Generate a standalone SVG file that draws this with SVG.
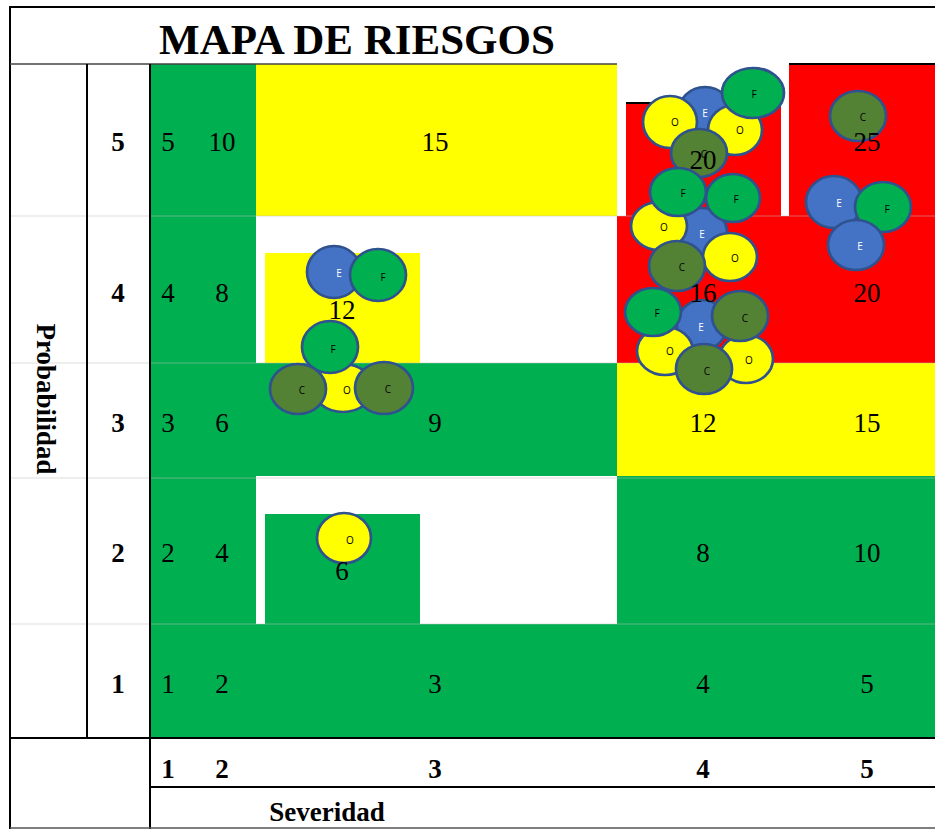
<svg xmlns="http://www.w3.org/2000/svg" width="935" height="829" viewBox="0 0 935 829">
<style>
.g{fill:#00B050}.y{fill:#FFFF00}.r{fill:#FF0000}
.ln{stroke:#000;stroke-width:2;fill:none}
.gl{stroke:#bfbfbf;stroke-width:1;opacity:0.5}
.num{font-family:"Liberation Serif","Times New Roman",serif;font-size:27px;fill:#000;text-anchor:middle}
.lab{font-family:"Liberation Serif","Times New Roman",serif;font-size:27px;font-weight:bold;fill:#000;text-anchor:middle}
.mk ellipse{stroke:#2F528F;stroke-width:2.7}
.O{fill:#FFFF00}.E{fill:#4472C4}.F{fill:#00B050}.C{fill:#548235}
.mk text{font-family:"Open Sans","Liberation Sans",sans-serif;font-size:10px;text-anchor:middle;fill:#000}
.mk text.w{fill:#fff}
</style>
<rect width="935" height="829" fill="#fff"/>
<g id="cells">
<rect class="g" x="150" y="64" width="106" height="674"/>
<rect class="y" x="256" y="64" width="361" height="152"/>
<rect class="r" x="626" y="103" width="155" height="113"/>
<rect class="r" x="789" y="64" width="146" height="152"/>
<rect class="y" x="265" y="253" width="155" height="110"/>
<rect class="r" x="617" y="216" width="318" height="147"/>
<rect class="g" x="256" y="363" width="361" height="113"/>
<rect class="y" x="617" y="363" width="318" height="113"/>
<rect class="g" x="265" y="514" width="155" height="110"/>
<rect class="g" x="617" y="476" width="318" height="148"/>
<rect class="g" x="150" y="624" width="785" height="114"/>
</g>
<g id="gridlines">
<line class="gl" x1="10" y1="216" x2="935" y2="216"/>
<line class="gl" x1="10" y1="363" x2="935" y2="363"/>
<line class="gl" x1="10" y1="478" x2="935" y2="478"/>
<line class="gl" x1="10" y1="624" x2="935" y2="624"/>
</g>
<g id="frame">
<line class="ln" x1="9" y1="7" x2="935" y2="7"/>
<line class="ln" x1="10" y1="6" x2="10" y2="829"/>
<line x1="10" y1="64" x2="617" y2="64" stroke="#444" stroke-width="1.5"/>
<line class="ln" x1="789" y1="64" x2="935" y2="64"/>
<line class="ln" x1="626" y1="103" x2="781" y2="103"/>
<line class="ln" x1="87" y1="64" x2="87" y2="738"/>
<line class="ln" x1="150" y1="64" x2="150" y2="829"/>
<line class="ln" x1="10" y1="738" x2="935" y2="738"/>
<line class="ln" x1="150" y1="787" x2="935" y2="787"/>
<line x1="10" y1="828" x2="935" y2="828" stroke="#555" stroke-width="1.5"/>
</g>
<g id="title">
<text x="357" y="54" font-family="Liberation Serif,Times New Roman,serif" font-size="43" font-weight="bold" text-anchor="middle">MAPA DE RIESGOS</text>
</g>
<g id="axis-probabilidad">
<text class="lab" x="0" y="9" font-size="29" transform="translate(46,399) rotate(90)">Probabilidad</text>
<text class="lab" x="118" y="151">5</text>
<text class="lab" x="118" y="302">4</text>
<text class="lab" x="118" y="432">3</text>
<text class="lab" x="118" y="562">2</text>
<text class="lab" x="118" y="693">1</text>
</g>
<g id="axis-severidad">
<text class="lab" x="168" y="778">1</text>
<text class="lab" x="222" y="778">2</text>
<text class="lab" x="435" y="778">3</text>
<text class="lab" x="703" y="778">4</text>
<text class="lab" x="867" y="778">5</text>
<text class="lab" x="327" y="821" font-size="28">Severidad</text>
</g>
<g id="connectors"></g>
<g id="markers">
<g id="m-cell20" class="mk">
<ellipse class="E" cx="705" cy="113" rx="27" ry="26"/>
<ellipse class="O" cx="670" cy="122" rx="27" ry="26"/>
<ellipse class="O" cx="735" cy="130" rx="27" ry="25"/>
<ellipse class="F" cx="753" cy="93" rx="31" ry="25"/>
<ellipse class="C" cx="699" cy="153" rx="28" ry="24"/>
<text class="w" x="705" y="117">E</text>
<text x="675" y="126">O</text>
<text x="740" y="134">O</text>
<text x="754" y="98">F</text>
<text x="704" y="158">C</text>
</g>
<g id="m-cell25" class="mk">
<ellipse class="C" cx="858" cy="116" rx="28" ry="25"/>
<text x="863" y="121">C</text>
</g>
<g id="m-cell16a" class="mk">
<ellipse class="E" cx="702" cy="233" rx="25" ry="25"/>
<ellipse class="O" cx="659" cy="226" rx="28" ry="24"/>
<ellipse class="O" cx="730" cy="257" rx="27" ry="24"/>
<ellipse class="F" cx="733" cy="198" rx="27" ry="24"/>
<ellipse class="F" cx="678" cy="192" rx="28" ry="24"/>
<ellipse class="C" cx="677" cy="266" rx="28" ry="25"/>
<text class="w" x="702" y="238">E</text>
<text x="664" y="231">O</text>
<text x="735" y="262">O</text>
<text x="736" y="203">F</text>
<text x="683" y="197">F</text>
<text x="682" y="271">C</text>
</g>
<g id="m-cell16b" class="mk">
<ellipse class="E" cx="702" cy="325" rx="25" ry="25"/>
<ellipse class="O" cx="665" cy="351" rx="28" ry="24"/>
<ellipse class="O" cx="746" cy="359" rx="27" ry="24"/>
<ellipse class="F" cx="653" cy="312" rx="28" ry="24"/>
<ellipse class="C" cx="740" cy="316" rx="28" ry="25"/>
<ellipse class="C" cx="704" cy="369" rx="28" ry="25"/>
<text class="w" x="701" y="331">E</text>
<text x="670" y="355">O</text>
<text x="749" y="364">O</text>
<text x="657" y="317">F</text>
<text x="745" y="322">C</text>
<text x="707" y="375">C</text>
</g>
<g id="m-cell20b" class="mk">
<ellipse class="E" cx="834" cy="202" rx="28" ry="26"/>
<ellipse class="F" cx="883" cy="207" rx="28" ry="25"/>
<ellipse class="E" cx="856" cy="245" rx="28" ry="25"/>
<text class="w" x="839" y="207">E</text>
<text x="887" y="213">F</text>
<text class="w" x="860" y="250">E</text>
</g>
<g id="m-cell12" class="mk">
<ellipse class="E" cx="334" cy="272" rx="27" ry="26"/>
<ellipse class="F" cx="378" cy="275" rx="28" ry="26"/>
<ellipse class="O" cx="343" cy="388" rx="30" ry="24"/>
<ellipse class="F" cx="330" cy="347" rx="28" ry="26"/>
<ellipse class="C" cx="298" cy="389" rx="28" ry="25"/>
<ellipse class="C" cx="384" cy="388" rx="29" ry="26"/>
<text class="w" x="339" y="277">E</text>
<text x="383" y="281">F</text>
<text x="347" y="394">O</text>
<text x="333" y="353">F</text>
<text x="302" y="394">C</text>
<text x="388" y="393">C</text>
</g>
<g id="m-cell6" class="mk">
<ellipse class="O" cx="344" cy="538" rx="27" ry="25"/>
<text x="350" y="544">O</text>
</g>
</g>
<g id="values">
<text class="num" x="168" y="151">5</text>
<text class="num" x="222" y="151">10</text>
<text class="num" x="435" y="151">15</text>
<text class="num" x="703" y="169">20</text>
<text class="num" x="867" y="151">25</text>
<text class="num" x="168" y="302">4</text>
<text class="num" x="222" y="302">8</text>
<text class="num" x="342" y="319">12</text>
<text class="num" x="703" y="302">16</text>
<text class="num" x="867" y="302">20</text>
<text class="num" x="168" y="432">3</text>
<text class="num" x="222" y="432">6</text>
<text class="num" x="435" y="432">9</text>
<text class="num" x="703" y="432">12</text>
<text class="num" x="867" y="432">15</text>
<text class="num" x="168" y="562">2</text>
<text class="num" x="222" y="562">4</text>
<text class="num" x="342" y="580">6</text>
<text class="num" x="703" y="562">8</text>
<text class="num" x="867" y="562">10</text>
<text class="num" x="168" y="693">1</text>
<text class="num" x="222" y="693">2</text>
<text class="num" x="435" y="693">3</text>
<text class="num" x="703" y="693">4</text>
<text class="num" x="867" y="693">5</text>
</g>
</svg>
